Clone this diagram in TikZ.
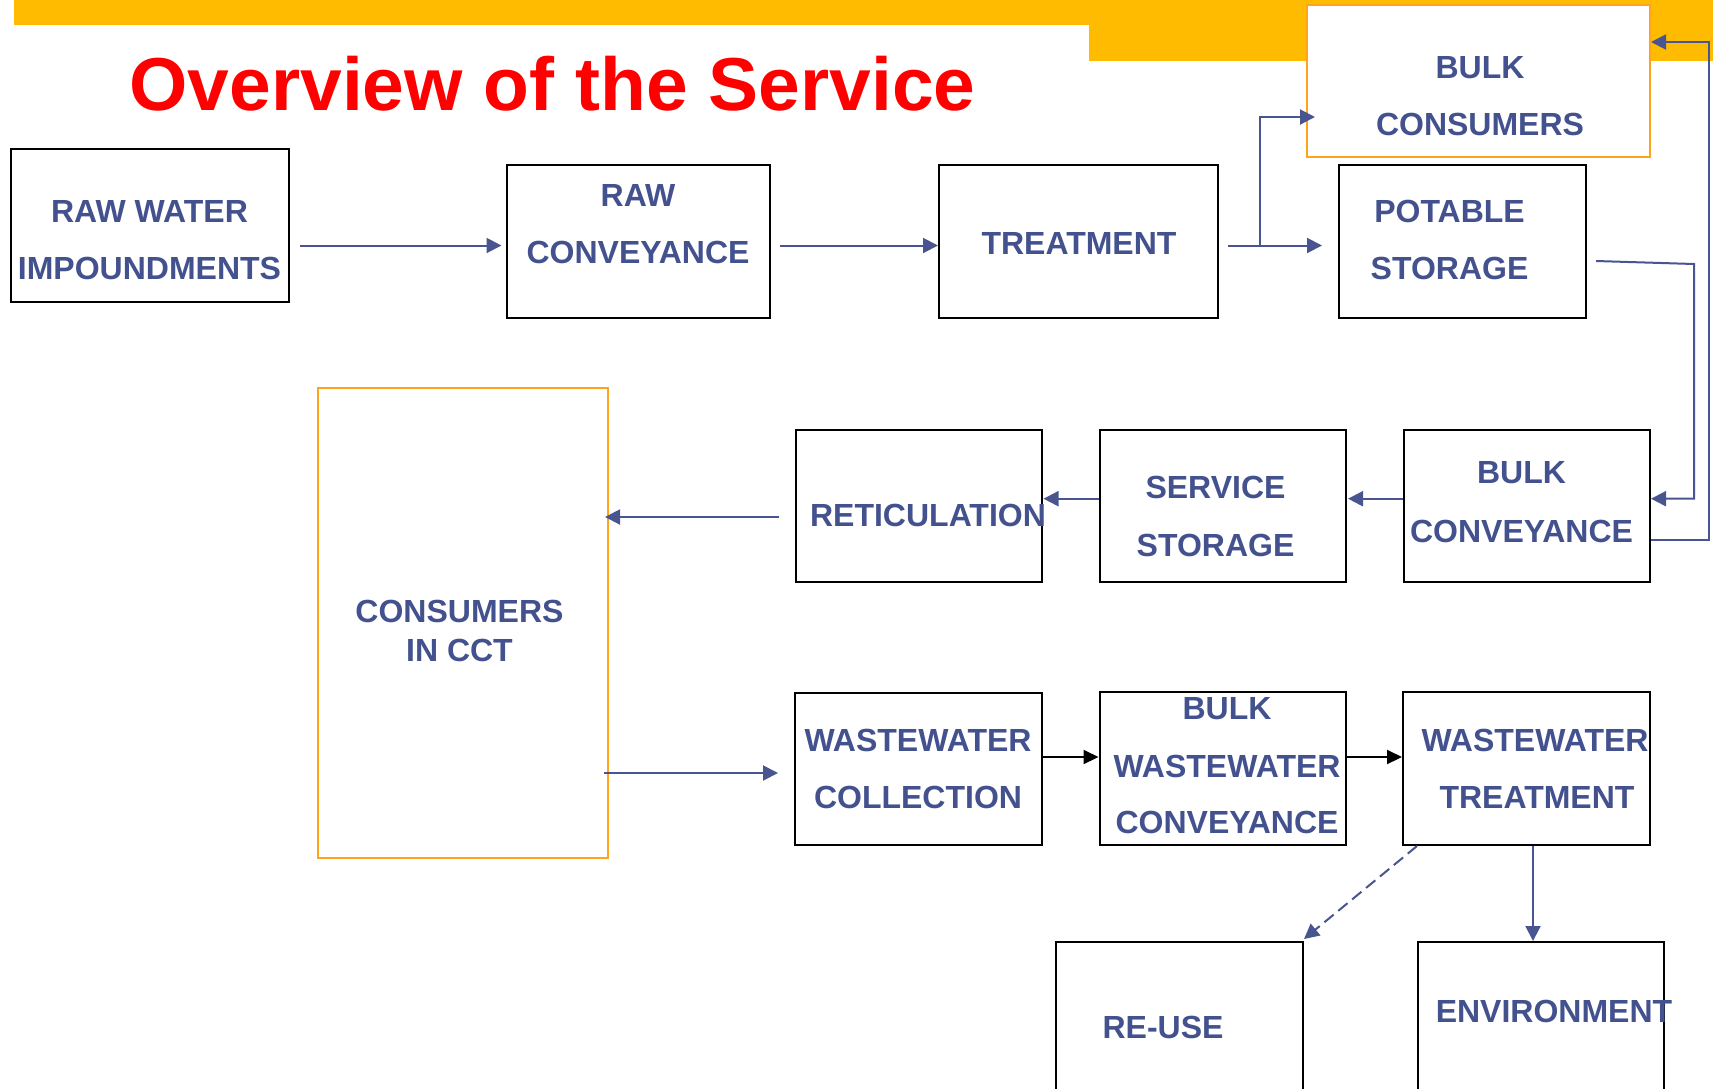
\documentclass[tikz,border=0pt]{standalone}
\usepackage{fontspec}
\setmainfont{Liberation Sans}
\usetikzlibrary{arrows.meta,calc}
\definecolor{txtblue}{RGB}{67,82,142}
\definecolor{linblue}{RGB}{72,85,145}
\definecolor{gold}{RGB}{255,187,0}
\definecolor{boxorange}{RGB}{255,163,26}
\definecolor{titlered}{RGB}{255,0,0}
\begin{document}
\begin{tikzpicture}[x=1pt,y=-1pt,
  box/.style={draw=black,line width=2pt,fill=white,inner sep=0pt,minimum height=153pt},
  obox/.style={draw=boxorange,line width=2pt,fill=white,inner sep=0pt},
  lbl/.style={text=txtblue,font=\fontsize{32}{32}\selectfont\bfseries,inner sep=0pt,anchor=base},
  arr/.style={draw=linblue,line width=2pt,-{Triangle[length=15pt,width=15pt]}},
  barr/.style={draw=black,line width=2pt,-{Triangle[length=15pt,width=14pt]}}]
\useasboundingbox (0,0) rectangle (1713,1088);
\clip (0,0) rectangle (1713,1088);
\fill[white] (0,0) rectangle (1713,1088);
% gold bar
\fill[gold] (14,0) rectangle (1713,25);
\fill[gold] (1089,0) rectangle (1713,61);
% title
\node[anchor=base,text=titlered,font=\fontsize{75}{75}\selectfont\bfseries,inner sep=0pt] (title) at (552.5,110) {Overview of the Service};
% boxes
\node[box,minimum width=278pt] (raw) at (150,225.5) {};
\node[box,minimum width=263pt] (rawc) at (638,241.5) {};
\node[box,minimum width=279pt] (treat) at (1078.5,241.5) {};
\node[obox,minimum width=343pt,minimum height=152pt] (bulkc) at (1478.5,81) {};
\node[box,minimum width=247pt] (pot) at (1462.5,241.5) {};
\node[box,minimum width=246.5pt,minimum height=152pt] (ret) at (918.75,506) {};
\node[box,minimum width=245.5pt,minimum height=152pt] (ss) at (1222.75,506) {};
\node[box,minimum width=246pt,minimum height=152pt] (bconv) at (1527,506) {};
\node[obox,minimum width=290pt,minimum height=470pt] (cons) at (463,623) {};
\node[box,minimum width=247pt,minimum height=152pt] (wwc) at (918.5,769) {};
\node[box,minimum width=246.5pt] (bww) at (1222.75,768.5) {};
\node[box,minimum width=246.6pt] (wwt) at (1526.3,768.5) {};
\node[box,minimum width=247pt] (reuse) at (1179.5,1018.5) {};
\node[box,minimum width=246pt] (env) at (1541,1018.5) {};
% texts
\node[lbl] (rawA) at (149.5,222) {RAW WATER};
\node[lbl] (rawB) at (149.5,279) {IMPOUNDMENTS};
\node[lbl] (rawcA) at (638,206) {RAW};
\node[lbl] (rawcB) at (638,263) {CONVEYANCE};
\node[lbl] (treatA) at (1079,254) {TREATMENT};
\node[lbl] (bulkcA) at (1480,78) {BULK};
\node[lbl] (bulkcB) at (1480,135) {CONSUMERS};
\node[lbl] (potA) at (1449.5,222) {POTABLE};
\node[lbl] (potB) at (1449.5,279) {STORAGE};
\node[lbl] (retA) at (928,526) {RETICULATION};
\node[lbl] (ssA) at (1215.5,498) {SERVICE};
\node[lbl] (ssB) at (1215.5,556) {STORAGE};
\node[lbl] (bconvA) at (1521.5,483) {BULK};
\node[lbl] (bconvB) at (1521.5,542) {CONVEYANCE};
\node[lbl] (consA) at (459.5,622) {CONSUMERS};
\node[lbl] (consB) at (459.5,661) {IN CCT};
\node[lbl] (wwcA) at (918,751) {WASTEWATER};
\node[lbl] (wwcB) at (918,808) {COLLECTION};
\node[lbl] (bwwA) at (1227,719) {BULK};
\node[lbl] (bwwB) at (1227,777) {WASTEWATER};
\node[lbl] (bwwC) at (1227,833) {CONVEYANCE};
\node[lbl] (wwtA) at (1535,751) {WASTEWATER};
\node[lbl] (wwtB) at (1537,808) {TREATMENT};
\node[lbl] (reuseA) at (1163,1038) {RE-USE};
\node[lbl] (envA) at (1554,1022) {ENVIRONMENT};
% top row connectors
\draw[arr] ($(raw.east)+(10,20)$) -- ($(rawc.west)+(-4,4)$);
\draw[arr] ($(rawc.east)+(9,4)$) -- ($(treat.west)+(0,4)$);
\draw[arr] ($(treat.east)+(9,4)$) -- ($(pot.west)+(-16,4)$);
\draw[arr] ($(treat.east)+(41,4)$) |- ($(bulkc.west)+(9,36)$);
\draw[arr] ($(pot.east)+(9,19.5)$) -- ++(98,3) |- ($(bconv.east)+(0,-7.3)$);
\draw[arr] ($(bconv.east)+(0,34)$) -- ++(58,0) |- ($(bulkc.east)+(0,-39)$);
% middle row
\draw[arr] ($(bconv.west)+(0,-7.3)$) -- ($(ss.east)+(1.5,-7.3)$);
\draw[arr] ($(ss.west)+(0,-7.3)$) -- ($(ret.east)+(0.5,-7.3)$);
\draw[arr] ($(ret.west)+(-15.5,11)$) -- ($(cons.east)+(-4,-106)$);
\draw[arr] ($(cons.east)+(-5,150)$) -- ($(wwc.west)+(-16,4)$);
% bottom row
\draw[barr] ($(wwc.east)+(-2,-12)$) -- ($(bww.west)+(0,-11.5)$);
\draw[barr] ($(bww.east)+(-1,-11.5)$) -- ($(wwt.west)+(0,-11.5)$);
\draw[arr,dash pattern=on 12pt off 6pt] ($(wwt.south west)+(15,0)$) -- ($(reuse.north east)+(0,-2)$);
\draw[arr] ($(wwt.south)+(6.7,0)$) -- ($(env.north)+(-8,0)$);
\end{tikzpicture}
\end{document}
